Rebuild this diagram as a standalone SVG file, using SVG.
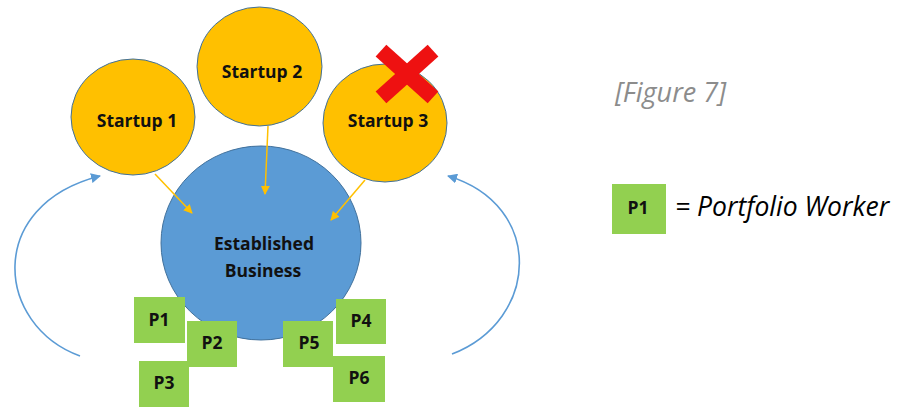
<svg xmlns="http://www.w3.org/2000/svg" width="905" height="407" viewBox="0 0 905 407">
  <style>
    .startup { fill: #FFC000; stroke: #41719C; stroke-width: 1; }
    .core { fill: #5B9BD5; stroke: #41719C; stroke-width: 1; }
    .worker { fill: #92D050; }
    .lbl { font-family: "Open Sans", "Liberation Sans", sans-serif; font-weight: bold; font-size: 17.5px; fill: #111; text-anchor: middle; }
    .feed { stroke: #FFC000; stroke-width: 1.5; fill: none; marker-end: url(#headY); }
    .loop { stroke: #5B9BD5; stroke-width: 1.6; fill: none; marker-end: url(#headB); }
    .note { font-family: "Open Sans", "Liberation Sans", sans-serif; font-style: italic; }
  </style>
  <defs>
    <marker id="headY" viewBox="0 0 10 10" refX="9" refY="5" markerWidth="9" markerHeight="9" markerUnits="userSpaceOnUse" orient="auto">
      <path d="M0,0 L10,5 L0,10 Z" fill="#FFC000"/>
    </marker>
    <marker id="headB" viewBox="0 0 10 10" refX="9" refY="5" markerWidth="10" markerHeight="10" markerUnits="userSpaceOnUse" orient="auto">
      <path d="M0,0 L10,5 L0,10 Z" fill="#5B9BD5"/>
    </marker>
  </defs>

  <!-- established business -->
  <g id="established">
    <ellipse class="core" cx="261" cy="243" rx="100" ry="97"/>
    <text class="lbl" x="264" y="250">Established</text>
    <text class="lbl" x="263" y="277">Business</text>
  </g>

  <!-- startups -->
  <g id="startup1">
    <ellipse class="startup" cx="133" cy="117" rx="62" ry="58"/>
    <text class="lbl" x="137" y="127">Startup 1</text>
  </g>
  <g id="startup2">
    <ellipse class="startup" cx="259.5" cy="66.5" rx="62.5" ry="59.5"/>
    <text class="lbl" x="262" y="78">Startup 2</text>
  </g>
  <g id="startup3">
    <ellipse class="startup" cx="385" cy="123" rx="62" ry="59"/>
    <text class="lbl" x="388" y="127">Startup 3</text>
    <g fill="#EE1111" transform="translate(407,74)">
      <rect x="-35" y="-8" width="70" height="16" transform="rotate(42)"/>
      <rect x="-35" y="-8" width="70" height="16" transform="rotate(-42)"/>
    </g>
  </g>

  <!-- connectors -->
  <g id="connectors">
    <line class="feed" x1="155" y1="174" x2="192" y2="213"/>
    <line class="feed" x1="268" y1="126" x2="265" y2="194"/>
    <line class="feed" x1="365" y1="180" x2="331" y2="220"/>
    <path class="loop" d="M80,356 C-5,325 -15,205 100,176"/>
    <path class="loop" d="M452,354 C540,320 545,205 448,176"/>
  </g>

  <!-- portfolio workers -->
  <g id="p1"><rect class="worker" x="134" y="297" width="51" height="46"/><text class="lbl" x="159" y="326">P1</text></g>
  <g id="p2"><rect class="worker" x="187" y="321" width="50" height="46"/><text class="lbl" x="212" y="349">P2</text></g>
  <g id="p3"><rect class="worker" x="139" y="361" width="50" height="46"/><text class="lbl" x="164" y="389">P3</text></g>
  <g id="p4"><rect class="worker" x="336" y="299" width="50" height="45"/><text class="lbl" x="361" y="327">P4</text></g>
  <g id="p5"><rect class="worker" x="283" y="321" width="50" height="46"/><text class="lbl" x="309" y="349">P5</text></g>
  <g id="p6"><rect class="worker" x="333" y="356" width="52" height="46"/><text class="lbl" x="359" y="384">P6</text></g>

  <!-- caption and legend -->
  <text class="note" x="615" y="102" font-size="27" fill="#8C8C8C">[Figure 7]</text>
  <g id="legend">
    <rect class="worker" x="612" y="184" width="54" height="50"/>
    <text class="lbl" x="638" y="214">P1</text>
    <text class="note" x="675" y="216" font-size="26.5" fill="#000">= Portfolio Worker</text>
  </g>
</svg>
